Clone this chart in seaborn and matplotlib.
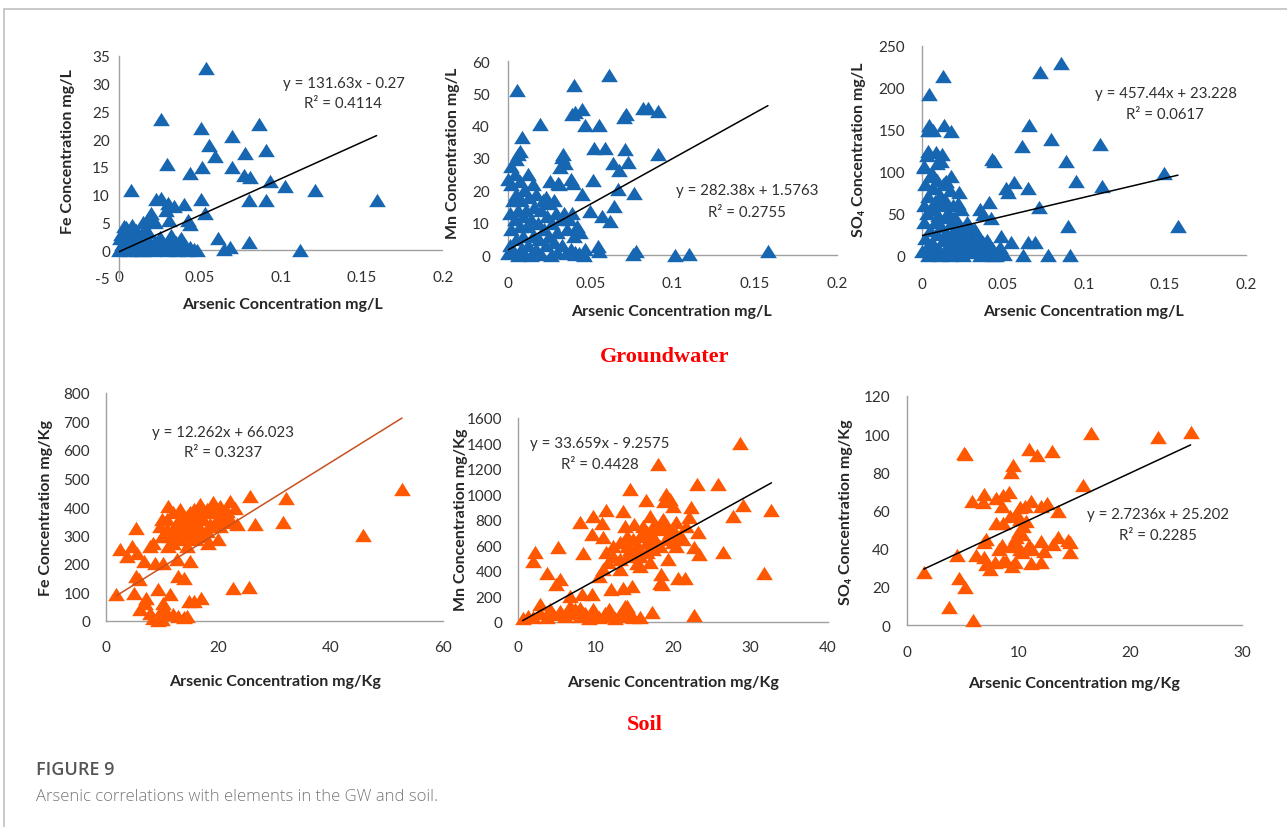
import matplotlib
matplotlib.use("Agg")
import matplotlib.pyplot as plt
import seaborn as sns
import numpy as np
import pandas as pd
from matplotlib.lines import Line2D

# ---- data ----
# Groundwater Fe (x: As mg/L, y: Fe mg/L)
gw_fe_x = [0.0539, 0.0261, 0.0508, 0.0862, 0.070, 0.0556, 0.0595, 0.078, 0.0907, 0.0296,
           0.0514, 0.0695, 0.0436, 0.0772, 0.0807, 0.093, 0.1025, 0.121, 0.0076, 0.159,
           0.080, 0.0907, 0.0508, 0.053, 0.0399, 0.0426, 0.0436, 0.061, 0.080, 0.1115,
           0.065, 0.0687,
           0.023, 0.026, 0.030, 0.034, 0.029, 0.020, 0.031, 0.022, 0.0148, 0.0045,
           0.0035, 0.0107, 0.018, 0.0066, 0.0128, 0.025, 0.033, 0.0374,
           0.000, 0.001, 0.002, 0.003, 0.004, 0.005, 0.006, 0.007, 0.008, 0.009,
           0.010, 0.011, 0.012, 0.013, 0.014, 0.015, 0.016, 0.017, 0.018, 0.019,
           0.020, 0.021, 0.022, 0.023, 0.024, 0.026, 0.027, 0.028, 0.030, 0.031,
           0.032, 0.033, 0.035, 0.036, 0.037, 0.038, 0.039, 0.041, 0.042, 0.044,
           0.046, 0.048, 0.0005, 0.0015, 0.003, 0.008, 0.012, 0.016, 0.019]
gw_fe_y = [32.8, 23.6, 22.1, 22.7, 20.5, 18.9, 17.0, 17.6, 18.0, 15.6,
           15.0, 15.0, 13.9, 13.6, 13.2, 12.4, 11.5, 10.9, 10.9, 9.1,
           9.1, 9.1, 9.2, 6.7, 8.3, 5.4, 4.8, 2.2, 1.5, 0.0,
           0.3, 0.6,
           9.2, 9.4, 8.5, 7.9, 7.3, 6.7, 5.4, 5.1, 5.1, 4.2,
           3.6, 3.6, 3.3, 2.4, 2.1, 2.4, 2.1, 1.8,
           0.0, 0.5, 1.2, 0.2, 1.8, 0.6, 0.0, 1.4, 0.3, 2.6,
           0.8, 0.1, 1.5, 0.4, 2.9, 0.0, 1.1, 0.5, 1.9, 0.2,
           0.9, 0.0, 1.6, 0.4, 1.0, 0.2, 1.3, 0.6, 0.0, 1.2,
           2.8, 0.4, 1.5, 0.1, 0.8, 2.2, 0.3, 1.0, 0.0, 0.6,
           0.2, 0.0, 2.2, 3.0, 4.3, 4.6, 3.1, 4.0, 5.6]

# Groundwater Mn
gw_mn_x = [0.0615, 0.0402, 0.0055, 0.0406, 0.039, 0.0447, 0.0822, 0.0853, 0.0914, 0.0715,
           0.0707, 0.0197, 0.0471, 0.0554, 0.0085, 0.0522, 0.0589, 0.0713, 0.0071, 0.006,
           0.0914, 0.0335, 0.0331, 0.0345, 0.0315, 0.0636, 0.0731, 0.0674, 0.067, 0.0766,
           0.0386, 0.0396, 0.0518, 0.0254, 0.0305, 0.0451, 0.0644, 0.0497, 0.0569, 0.062,
           0.000, 0.002, 0.005, 0.0548, 0.0554, 0.078, 0.076, 0.1015, 0.110, 0.158,
           0.0457, 0.0406,
           0.000, 0.001, 0.001, 0.002, 0.002, 0.003, 0.003, 0.004, 0.004, 0.005,
           0.005, 0.006, 0.006, 0.007, 0.007, 0.008, 0.008, 0.009, 0.009, 0.010,
           0.010, 0.011, 0.012, 0.012, 0.013, 0.014, 0.014, 0.015, 0.016, 0.017,
           0.017, 0.018, 0.019, 0.020, 0.020, 0.021, 0.022, 0.023, 0.024, 0.025,
           0.025, 0.026, 0.027, 0.028, 0.029, 0.030, 0.030, 0.031, 0.032, 0.033,
           0.034, 0.035, 0.036, 0.037, 0.038, 0.039, 0.040, 0.041, 0.042, 0.043,
           0.044, 0.046, 0.047, 0.015, 0.023, 0.028, 0.012]
gw_mn_y = [55.6, 52.5, 50.9, 44.2, 43.5, 45.3, 45.6, 45.4, 44.6, 43.5,
           42.8, 40.4, 40.1, 40.1, 36.6, 33.2, 33.2, 32.9, 32.2, 31.2,
           31.2, 31.2, 30.2, 28.6, 27.1, 28.6, 28.8, 26.2, 20.4, 19.1,
           23.5, 22.4, 23.3, 22.9, 22.4, 18.8, 15.2, 13.5, 12.1, 10.6,
           23.5, 27.6, 29.6, 2.9, 1.3, 1.3, 0.3, 0.0, 0.3, 1.1,
           0.3, 0.3,
           0.5, 3, 13, 22, 8, 17, 1, 25, 11, 5,
           19, 14, 0, 23, 9, 2, 17, 12, 6, 20,
           0.5, 14, 9, 3, 18, 11, 0, 6, 15, 2,
           19, 10, 5, 14, 0.3, 17, 8, 3, 12, 6,
           16, 0, 10, 4, 13, 1, 7, 22, 11, 3,
           13, 0.5, 8, 11, 2, 13, 6, 1, 9, 0.5,
           7, 0, 2, 22, 18, 17, 25]

# Groundwater SO4
gw_so4_x = [0.0858, 0.0728, 0.0128, 0.0045, 0.0658, 0.0045, 0.0035, 0.0066, 0.0138, 0.0179,
            0.0796, 0.0615, 0.110, 0.0035, 0.0086, 0.0123, 0.0117, 0.0014, 0.043, 0.0447,
            0.0889, 0.1496, 0.095, 0.111, 0.0519, 0.0529, 0.057, 0.0652, 0.072, 0.0358,
            0.0379, 0.0416, 0.0426, 0.0226, 0.0179, 0.0144, 0.0899, 0.158, 0.0488, 0.055,
            0.0652, 0.070, 0.0457, 0.0508, 0.0621, 0.078, 0.0914, 0.0375, 0.0323, 0.029,
            0.000, 0.001, 0.001, 0.002, 0.002, 0.003, 0.003, 0.004, 0.004, 0.005,
            0.005, 0.006, 0.006, 0.007, 0.007, 0.008, 0.008, 0.009, 0.009, 0.010,
            0.010, 0.011, 0.011, 0.012, 0.012, 0.013, 0.013, 0.014, 0.014, 0.015,
            0.015, 0.016, 0.016, 0.017, 0.017, 0.018, 0.018, 0.019, 0.019, 0.020,
            0.020, 0.021, 0.021, 0.022, 0.023, 0.023, 0.024, 0.025, 0.025, 0.026,
            0.027, 0.027, 0.028, 0.029, 0.030, 0.031, 0.032, 0.033, 0.034, 0.035,
            0.036, 0.037, 0.038, 0.040, 0.041, 0.043, 0.044, 0.046, 0.048, 0.001,
            0.003, 0.006, 0.009, 0.015, 0.022]
gw_so4_y = [230, 219, 214, 192, 156, 156, 150, 150, 156, 148,
            139, 130, 133, 125, 123, 121, 113, 107, 115, 113,
            113, 98, 88, 83, 80, 75, 87, 80, 57, 55,
            49, 63, 44, 75, 95, 87, 35, 35, 23, 16,
            15, 15, 0.4, 1, 0.4, 0.4, 0, 15, 31, 35,
            5, 40, 60, 20, 85, 10, 50, 0, 70, 30,
            95, 15, 55, 80, 3, 40, 65, 25, 90, 8,
            48, 72, 0, 35, 60, 18, 85, 45, 5, 65,
            28, 12, 52, 78, 0, 38, 22, 60, 8, 45,
            30, 15, 2, 40, 25, 10, 55, 0, 32, 18,
            6, 28, 40, 12, 22, 3, 15, 30, 8, 20,
            0, 12, 5, 18, 2, 8, 0, 4, 10, 105,
            120, 98, 110, 88, 62]

# Soil Fe (x: As mg/Kg, y: Fe mg/Kg)
soil_fe_x = [52.7, 45.7, 32.1, 31.6, 25.7, 26.6, 22.6, 25.4, 1.8, 2.5,
             3.7, 4.6, 5.3, 5.5, 5.3, 5.0, 5.9, 6.7, 7.8, 8.3,
             8.7, 10.2, 11.1, 9.6, 9.9, 12.6, 15.0, 12.9, 13.8, 9.3,
             11.4, 7.2, 7.0, 6.1, 7.8, 8.4, 9.3, 9.9, 9.9, 10.2,
             10.8, 12.0, 12.9, 13.8, 14.4, 14.7, 15.6, 17.0, 18.2, 20.0,
             10.8, 12.0, 13.2, 14.4, 15.6, 16.8, 17.9, 19.1, 20.3, 21.5,
             22.1, 23.0, 23.3, 22.1, 20.9, 19.7, 18.5, 17.3, 16.1, 15.0,
             13.8, 12.6, 11.4, 12.0, 13.2, 14.4, 15.6, 16.8, 17.9, 19.1,
             20.3, 21.5, 10.8, 9.9, 11.1, 12.6, 13.5, 15.0, 16.1, 17.0,
             18.8, 20.6, 16.1, 17.6, 14.4, 13.8, 12.3]
soil_fe_y = [463, 301, 433, 348, 439, 340, 117, 121, 94, 252,
             228, 263, 328, 240, 158, 100, 146, 211, 263, 275,
             205, 205, 404, 334, 357, 217, 211, 158, 152, 111,
             94, 82, 64, 41, 29, 12, 4, 6, 41, 64,
             29, 23, 18, 15, 18, 70, 70, 82, 275, 287,
             357, 381, 392, 369, 392, 410, 392, 416, 404, 387,
             422, 398, 340, 357, 369, 357, 340, 357, 346, 334,
             322, 310, 299, 275, 287, 299, 310, 322, 316, 334,
             334, 346, 322, 299, 263, 346, 357, 381, 375, 381,
             381, 381, 287, 299, 263, 346, 334]

# Soil Mn
soil_mn_x = [28.7, 18.1, 23.1, 25.8, 14.4, 19.1, 19.6, 18.8, 20.0, 16.5,
             29.0, 32.7, 27.8, 11.3, 13.5, 8.0, 9.7, 10.8, 22.3, 22.1,
             23.2, 17.0, 17.8, 13.8, 15.0, 9.5, 11.0, 2.2, 5.2, 8.4,
             1.9, 3.7, 31.7, 26.5, 22.7, 23.4, 19.4, 17.0, 15.7, 15.3,
             18.5, 18.6, 18.3, 20.6, 21.6, 13.6, 14.7, 12.0, 11.0, 10.5,
             13.1, 5.4, 4.9, 9.5, 8.2, 6.7, 2.8, 17.3, 22.7, 13.8,
             11.4, 12.3, 13.1, 14.0, 14.8, 15.7, 16.6, 17.4, 18.3, 19.1,
             20.0, 20.9, 20.0, 19.1, 18.3, 17.4, 16.6, 15.7, 14.8, 14.0,
             13.1, 12.3, 11.6, 15.7, 16.6, 14.4, 17.8, 19.6, 20.4, 21.7,
             21.3, 20.4, 14.0, 15.3, 17.4, 18.7, 16.1,
             0.6, 1.3, 1.9, 2.8, 3.7, 4.5, 5.4, 6.0, 6.7, 7.3,
             8.0, 8.6, 9.2, 9.9, 10.5, 11.2, 11.8, 12.5, 13.1, 13.8,
             14.2, 14.8, 15.7, 4.1, 6.7, 8.0, 9.7, 11.8, 13.3, 14.0]
soil_mn_y = [1406, 1241, 1083, 1083, 1044, 1005, 965, 952, 913, 957,
             918, 879, 834, 881, 868, 787, 829, 776, 900, 821,
             703, 834, 755, 755, 769, 690, 664, 551, 590, 540,
             480, 388, 383, 546, 585, 532, 493, 472, 441, 462,
             375, 296, 304, 344, 344, 265, 283, 257, 414, 362,
             414, 336, 296, 218, 223, 205, 139, 81, 52, 126,
             546, 598, 624, 598, 651, 677, 703, 677, 729, 755,
             729, 677, 624, 651, 598, 572, 546, 572, 546, 520,
             493, 520, 467, 520, 624, 572, 624, 703, 782, 755,
             651, 598, 677, 598, 755, 808, 755,
             34, 47, 42, 73, 42, 60, 87, 47, 73, 100,
             47, 73, 34, 60, 42, 73, 47, 34, 60, 100,
             47, 42, 42, 100, 126, 113, 100, 100, 73, 126]

# Soil SO4
soil_so4_x = [25.4, 22.5, 16.5, 5.1, 5.2, 10.9, 11.6, 13.0, 9.5, 9.3,
              15.8, 6.9, 6.8, 5.8, 8.0, 8.6, 9.1, 8.5, 11.1, 12.0,
              12.5, 13.5, 10.1, 10.6, 9.2, 9.8, 8.0, 8.6, 10.1, 10.7,
              10.4, 10.0, 10.3, 9.8, 7.1, 6.9, 8.5, 8.2, 9.6, 9.5,
              10.1, 10.3, 10.9, 11.2, 12.0, 12.3, 13.1, 13.5, 14.4, 14.6,
              14.6, 12.0, 11.1, 8.6, 9.4, 6.2, 6.9, 7.1, 7.4, 4.5,
              1.5, 4.7, 5.2, 3.8, 5.9, 7.9, 8.9, 9.7]
soil_so4_y = [101.2, 98.7, 100.5, 90.3, 89.5, 92.4, 88.9, 91.2, 83.7, 80.2,
              73.3, 68.9, 64.2, 65.1, 66.3, 68.2, 69.8, 62.4, 65.1, 62.4,
              63.8, 59.8, 61.6, 62.1, 56.9, 58.1, 53.7, 53.2, 55.5, 54.6,
              52.0, 49.4, 47.6, 45.9, 45.3, 43.3, 42.0, 39.8, 44.1, 41.5,
              39.8, 38.0, 42.0, 39.8, 44.1, 38.9, 42.4, 45.9, 44.5, 43.3,
              38.0, 32.8, 32.3, 33.7, 31.0, 36.8, 35.4, 31.9, 29.3, 36.6,
              27.9, 24.4, 19.7, 9.2, 2.8, 33.1, 33.7, 32.8]

# trend line coefficients and R² as printed on the chart
slopes = [131.63, 282.38, 457.44, 12.262, 33.659, 2.7236]
intercepts = [-0.27, 1.5763, 23.228, 66.023, -9.2575, 25.202]
eq_texts = ["y = 131.63x - 0.27", "y = 282.38x + 1.5763", "y = 457.44x + 23.228",
            "y = 12.262x + 66.023", "y = 33.659x - 9.2575", "y = 2.7236x + 25.202"]
r2_texts = ["R² = 0.4114", "R² = 0.2755", "R² = 0.0617",
            "R² = 0.3237", "R² = 0.4428", "R² = 0.2285"]

y_labels = ["Fe Concentration mg/L", "Mn Concentration mg/L", "SO₄ Concentration mg/L",
            "Fe Concentration mg/Kg", "Mn Concentration mg/Kg", "SO₄ Concentration mg/Kg"]
x_labels = ["Arsenic Concentration mg/L"] * 3 + ["Arsenic Concentration mg/Kg"] * 3

x_ticks = [[0, 0.05, 0.1, 0.15, 0.2]] * 3 + [[0, 20, 40, 60], [0, 10, 20, 30, 40], [0, 10, 20, 30]]
x_tick_labels = [["0", "0.05", "0.1", "0.15", "0.2"]] * 3 + [["0", "20", "40", "60"],
                 ["0", "10", "20", "30", "40"], ["0", "10", "20", "30"]]
y_ticks = [list(range(-5, 36, 5)), list(range(0, 61, 10)), list(range(0, 251, 50)),
           list(range(0, 801, 100)), list(range(0, 1601, 200)), list(range(0, 121, 20))]

# ---- layout (pixels) ----
W, H = 1287, 828
sns.set_style("white")
plt.rcParams["font.family"] = ["Lato", "DejaVu Sans"]

BLUE = "#1766b1"
ORANGE = "#ff5800"
AXIS = "#a0a0a0"
TXT = "#303030"

# left, right, top, bottom (px) of the plot area
panels = [
    dict(box=(119, 443, 57, 279), xlim=(0, 0.2), ylim=(-5, 35), zero_line=True,
         xtick_c=279, ygap=9, ylab=(67, 152), xlab=(282, 306), eq=(344, 84), r2=(343, 104)),
    dict(box=(508, 837, 62, 256), xlim=(0, 0.2), ylim=(0, 60), zero_line=False,
         xtick_c=285, ygap=18, ylab=(452, 153), xlab=(671, 313), eq=(747, 191), r2=(747, 213)),
    dict(box=(922, 1246, 47, 256), xlim=(0, 0.2), ylim=(0, 250), zero_line=False,
         xtick_c=286, ygap=17, ylab=(858, 150), xlab=(1083, 313), eq=(1166, 94), r2=(1165, 115)),
    dict(box=(106, 443, 394, 622), xlim=(0, 60), ylim=(0, 800), zero_line=False,
         xtick_c=649, ygap=16, ylab=(45, 508), xlab=(275, 683), eq=(223, 433), r2=(223, 453)),
    dict(box=(518, 828, 419, 623), xlim=(0, 40), ylim=(0, 1600), zero_line=False,
         xtick_c=649, ygap=16, ylab=(460, 520), xlab=(673, 684), eq=(600, 444), r2=(600, 465)),
    dict(box=(907, 1242, 397, 626), xlim=(0, 30), ylim=(0, 120), zero_line=False,
         xtick_c=654, ygap=17, ylab=(845, 512), xlab=(1074, 685), eq=(1158, 515), r2=(1158, 536)),
]
series = [(gw_fe_x, gw_fe_y), (gw_mn_x, gw_mn_y), (gw_so4_x, gw_so4_y),
          (soil_fe_x, soil_fe_y), (soil_mn_x, soil_mn_y), (soil_so4_x, soil_so4_y)]
colors = [BLUE] * 3 + [ORANGE] * 3
line_colors = ["black"] * 3 + ["#c8501e", "black", "black"]

# Excel-like triangle, wider than tall
tri = [(-1, -0.8), (1, -0.8), (0, 0.8), (-1, -0.8)]

fig = plt.figure(figsize=(W / 100, H / 100), dpi=100)


def fx(px):
    return px / W


def fy(py):
    return 1 - py / H


for i, p in enumerate(panels):
    l, r, t, b = p["box"]
    ax = fig.add_axes([fx(l), fy(b), (r - l) / W, (b - t) / H])
    xs, ys = series[i]
    df = pd.DataFrame({"x": xs, "y": ys})
    sns.scatterplot(data=df, x="x", y="y", marker=tri, s=145, color=colors[i],
                    linewidth=0, ax=ax, zorder=3, clip_on=False)
    # linear trend line over the data range
    x0, x1 = df.x.min(), df.x.max()
    ax.plot([x0, x1], [slopes[i] * x0 + intercepts[i], slopes[i] * x1 + intercepts[i]],
            color=line_colors[i], lw=1.1, zorder=4)

    ax.set_xlim(*p["xlim"])
    ax.set_ylim(*p["ylim"])
    ax.set_xticks(x_ticks[i], x_tick_labels[i])
    ax.set_yticks(y_ticks[i], [str(v) for v in y_ticks[i]])
    for s in ["top", "right"]:
        ax.spines[s].set_visible(False)
    ax.spines["left"].set_color(AXIS)
    ax.spines["left"].set_linewidth(1.0)
    if p["zero_line"]:
        ax.spines["bottom"].set_visible(False)
        ax.axhline(0, color=AXIS, lw=1.0, zorder=1)
    else:
        ax.spines["bottom"].set_color(AXIS)
        ax.spines["bottom"].set_linewidth(1.0)

    xpad = (p["xtick_c"] - 8 - b) * 0.72
    ax.tick_params(axis="x", length=0, pad=xpad, labelsize=11, labelcolor=TXT)
    ax.tick_params(axis="y", length=0, pad=p["ygap"] * 0.72, labelsize=11, labelcolor=TXT)

    ax.set_xlabel(x_labels[i], fontsize=11.5, fontweight="bold", color="#262626")
    ax.set_ylabel(y_labels[i], fontsize=11.5, fontweight="bold", color="#262626")
    lx, ly = p["xlab"]
    ax.xaxis.set_label_coords((lx - l) / (r - l), (b - (ly - 8)) / (b - t))
    yx, yy = p["ylab"]
    ax.yaxis.set_label_coords((yx + 8 - l) / (r - l), (b - yy) / (b - t))

    ex, ey = p["eq"]
    fig.text(fx(ex), fy(ey), eq_texts[i], ha="center", va="center", fontsize=10.8, color=TXT)
    rx, ry = p["r2"]
    fig.text(fx(rx), fy(ry), r2_texts[i], ha="center", va="center", fontsize=10.8, color=TXT)

# section titles
fig.text(fx(665), fy(357), "Groundwater", ha="center", va="center", color="red",
         fontsize=16, fontweight="bold", family="Liberation Serif")
fig.text(fx(645), fy(725), "Soil", ha="center", va="center", color="red",
         fontsize=16, fontweight="bold", family="Liberation Serif")

# caption
fig.text(fx(36), fy(770), "FIGURE 9", ha="left", va="center", color="#555555",
         fontsize=13, fontweight="semibold", family="Open Sans")
fig.text(fx(36), fy(797), "Arsenic correlations with elements in the GW and soil.",
         ha="left", va="center", color="#777777", fontsize=12, fontweight="light",
         family="Open Sans")

# page frame (top and left edges)
fig.add_artist(Line2D([fx(4), 1], [fy(9.5), fy(9.5)], color="#c0c0c0", lw=1.2))
fig.add_artist(Line2D([fx(4), fx(4)], [fy(9.5), 0], color="#c0c0c0", lw=1.2))

fig.savefig("out.png", dpi=100, facecolor="white")
